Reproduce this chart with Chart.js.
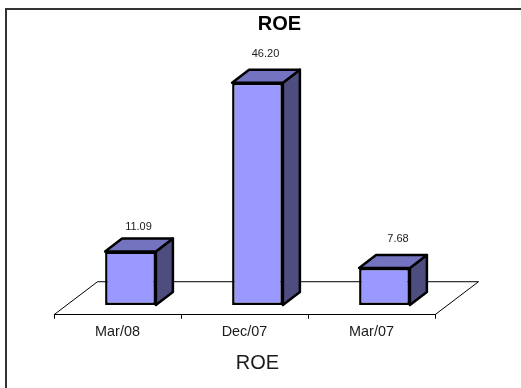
<!DOCTYPE html>
<html>
<head>
<meta charset="utf-8">
<style>
  html, body { margin: 0; padding: 0; background: #fff; }
  #wrap { position: relative; width: 521px; height: 388px; }
</style>
<script src="https://cdn.jsdelivr.net/npm/chart.js@4"></script>
</head>
<body>
<div id="wrap"><canvas id="chart" width="521" height="388"></canvas></div>
<script>
const categories = ['Mar/08', 'Dec/07', 'Mar/07'];
const roeValues = [11.09, 46.20, 7.68];
const valueText = ['11.09', '46.20', '7.68'];
const seriesName = 'ROE';

// Pseudo-3D look of the columns and the floor they stand on.
const depth = { dx: 17, dy: 13 };
const floorDepth = { dx: 43.5, dy: 33 };
const barShift = 13;
const labelShiftX = [8, 8, 13.5];
const labelLift = [12, 16, 16];
const faces = { front: '#9999ff', top: '#7373bf', side: '#4d4d80', edge: '#000000' };
const sans = '"Liberation Sans", Arial, sans-serif';

function extrude(ctx, bar) {
  const half = bar.width / 2;
  const l = bar.x - half, r = bar.x + half, t = bar.y, b = bar.base;
  ctx.lineJoin = 'round';
  ctx.lineWidth = 2.5;
  ctx.strokeStyle = faces.edge;

  ctx.fillStyle = faces.side;
  ctx.beginPath();
  ctx.moveTo(r, t);
  ctx.lineTo(r + depth.dx, t - depth.dy);
  ctx.lineTo(r + depth.dx, b - depth.dy);
  ctx.lineTo(r, b);
  ctx.closePath();
  ctx.fill();
  ctx.stroke();

  ctx.fillStyle = faces.top;
  ctx.beginPath();
  ctx.moveTo(l, t);
  ctx.lineTo(l + depth.dx, t - depth.dy);
  ctx.lineTo(r + depth.dx, t - depth.dy);
  ctx.lineTo(r, t);
  ctx.closePath();
  ctx.fill();
  ctx.stroke();
}

const scenery = {
  id: 'scenery',
  // Both headings are centred on the floor rather than on the front axis.
  afterLayout(chart) {
    chart.boxes
      .filter(box => box.options && box.options.text === seriesName)
      .forEach(box => {
        if (box.position === 'top') box.left += 70;
        else box.left += 26;
      });
  },
  // White page with a rule along the top and left edges.
  beforeDraw(chart) {
    const ctx = chart.ctx;
    ctx.save();
    ctx.fillStyle = '#ffffff';
    ctx.fillRect(0, 0, chart.width, chart.height);
    ctx.strokeStyle = '#333333';
    ctx.lineWidth = 2;
    ctx.beginPath();
    ctx.moveTo(6, chart.height);
    ctx.lineTo(6, 9);
    ctx.lineTo(chart.width, 9);
    ctx.stroke();
    ctx.restore();
  },
  // Floor outline behind the columns.
  beforeDatasetsDraw(chart) {
    const { ctx, chartArea: a } = chart;
    ctx.save();
    ctx.strokeStyle = '#000000';
    ctx.lineWidth = 1;
    ctx.beginPath();
    ctx.moveTo(a.left, a.bottom);
    ctx.lineTo(a.left + floorDepth.dx, a.bottom - floorDepth.dy);
    ctx.lineTo(a.right + floorDepth.dx, a.bottom - floorDepth.dy);
    ctx.lineTo(a.right, a.bottom);
    ctx.stroke();
    ctx.restore();
  },
  // Columns sit a little behind the front edge of the floor.
  beforeDatasetDraw(chart) {
    chart.ctx.save();
    chart.ctx.translate(barShift, 0);
    chart.getDatasetMeta(0).data.forEach(bar => extrude(chart.ctx, bar));
  },
  afterDatasetDraw(chart) {
    chart.ctx.restore();
  },
  // Value captions above each column.
  afterDatasetsDraw(chart) {
    const ctx = chart.ctx;
    ctx.save();
    ctx.font = '11px ' + sans;
    ctx.fillStyle = '#1a1a1a';
    ctx.textAlign = 'center';
    ctx.textBaseline = 'middle';
    chart.getDatasetMeta(0).data.forEach((bar, i) => {
      ctx.fillText(valueText[i], bar.x + barShift + labelShiftX[i], bar.y - depth.dy - labelLift[i]);
    });
    ctx.restore();
  }
};

new Chart(document.getElementById('chart'), {
  type: 'bar',
  data: {
    labels: categories,
    datasets: [{
      label: seriesName,
      data: roeValues,
      backgroundColor: faces.front,
      borderColor: faces.edge,
      borderWidth: 2.5,
      borderSkipped: false,
      barPercentage: 0.4,
      categoryPercentage: 1
    }]
  },
  plugins: [scenery],
  options: {
    responsive: false,
    animation: false,
    layout: { padding: { left: 54, right: 86, top: 12, bottom: 13 } },
    plugins: {
      legend: { display: false },
      tooltip: { enabled: false },
      title: {
        display: true,
        text: seriesName,
        color: '#000000',
        font: { family: sans, size: 20, weight: 'bold' },
        padding: { top: 0, bottom: 0 }
      },
      subtitle: {
        display: true,
        position: 'bottom',
        text: seriesName,
        color: '#1a1a1a',
        font: { family: sans, size: 20, weight: 'normal' },
        padding: { top: 5, bottom: 0 }
      }
    },
    scales: {
      x: {
        grid: { drawOnChartArea: false, offset: true, tickLength: 4, color: '#000000' },
        border: { color: '#000000', width: 1 },
        ticks: {
          color: '#1a1a1a',
          padding: 5,
          maxRotation: 0,
          font: { family: sans, size: 14.4 }
        }
      },
      y: {
        display: false,
        min: -2.03,
        max: 55.9
      }
    }
  }
});
</script>
</body>
</html>
